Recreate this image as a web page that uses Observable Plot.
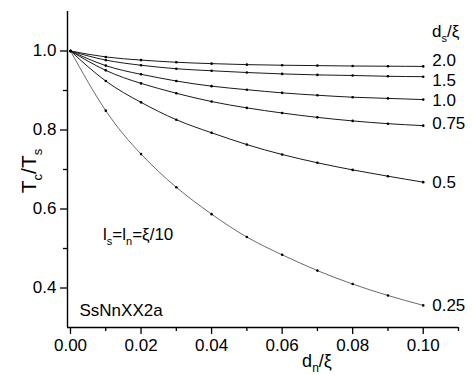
<!DOCTYPE html>
<html>
<head>
<meta charset="utf-8">
<script src="https://cdn.jsdelivr.net/npm/d3@7"></script>
<script src="https://cdn.jsdelivr.net/npm/@observablehq/plot@0.6"></script>
<style>
  html, body { margin: 0; padding: 0; background: #fff; }
  svg text { font-family: "Liberation Sans", Arial, sans-serif; }
</style>
</head>
<body>
<div id="chart"></div>
<script>
// d_n/xi values
const dn = [0, 0.01, 0.02, 0.03, 0.04, 0.05, 0.06, 0.07, 0.08, 0.09, 0.10];
// series labels (d_s/xi)
const seriesLabels = ["2.0", "1.5", "1.0", "0.75", "0.5", "0.25"];
// Tc/Ts values per series
const t20  = [1, 0.985, 0.977, 0.9715, 0.968, 0.9655, 0.964, 0.963, 0.962, 0.9615, 0.961];
const t15  = [1, 0.977, 0.964, 0.955, 0.950, 0.9455, 0.942, 0.9395, 0.938, 0.936, 0.935];
const t10  = [1, 0.963, 0.941, 0.924, 0.911, 0.902, 0.894, 0.888, 0.883, 0.880, 0.877];
const t075 = [1, 0.951, 0.918, 0.893, 0.872, 0.856, 0.843, 0.832, 0.823, 0.816, 0.811];
const t05  = [1, 0.924, 0.870, 0.826, 0.793, 0.763, 0.738, 0.717, 0.699, 0.683, 0.668];
const t025 = [1, 0.849, 0.739, 0.655, 0.587, 0.529, 0.484, 0.444, 0.410, 0.381, 0.356];
// tick values
const xMajorTicks = [0, 0.02, 0.04, 0.06, 0.08, 0.10];
const xMinorTicks = [0.01, 0.03, 0.05, 0.07, 0.09, 0.11];
const yMajorTicks = [0.4, 0.6, 0.8, 1.0];
const yMinorTicks = [0.5, 0.7, 0.9];

const seriesValues = [t20, t15, t10, t075, t05, t025];
const rows = [];
seriesValues.forEach((vals, i) => vals.forEach((v, j) => rows.push({ds: seriesLabels[i], x: dn[j], y: v})));
const ends = seriesValues.map((vals, i) => ({ds: seriesLabels[i], x: dn[dn.length - 1], y: vals[vals.length - 1]}));

const W = 473, H = 375;
const mL = 67, mR = 15, mT = 11, mB = 48;
const xDom = [-0.00085, 0.11], yDom = [0.3, 1.1];

const labelDy = {"2.0": -6, "1.5": 4, "1.0": 1, "0.75": -2, "0.5": 0, "0.25": 0};

const marks = [
  Plot.ruleX([xDom[0]], {stroke: "#000", strokeWidth: 1.4}),
  Plot.ruleY([yDom[0]], {stroke: "#000", strokeWidth: 1.4}),
  Plot.axisY({ticks: yMajorTicks, tickSize: 7, tickPadding: 4, tickFormat: d3.format(".1f"), label: null, fontSize: 17, strokeWidth: 1.3}),
  Plot.axisY({ticks: yMinorTicks, tickSize: 4, tickFormat: () => "", label: null, strokeWidth: 1.3}),
  Plot.axisX({ticks: xMajorTicks, tickSize: 7, tickPadding: 4, tickFormat: d3.format(".2f"), label: null, fontSize: 17, strokeWidth: 1.3}),
  Plot.axisX({ticks: xMinorTicks, tickSize: 4, tickFormat: () => "", label: null, strokeWidth: 1.3}),
  Plot.line(rows.filter(d => d.ds !== "0.25"), {x: "x", y: "y", z: "ds", curve: "natural", stroke: "#1a1a1a", strokeWidth: 1}),
  Plot.line(rows.filter(d => d.ds === "0.25"), {x: "x", y: "y", z: "ds", curve: "natural", stroke: "#444", strokeWidth: 0.8}),
  Plot.dot(rows, {x: "x", y: "y", r: 1.3, fill: "#000", stroke: null}),
  ...seriesLabels.map(lab => Plot.text(ends.filter(d => d.ds === lab), {
    x: "x", y: "y", text: "ds", dx: 9, dy: labelDy[lab], textAnchor: "start", lineAnchor: "middle", fontSize: 17, fill: "#000"
  })),
  Plot.text(["SsNnXX2a"], {x: 0.00255, y: 0.3295, text: d => d, textAnchor: "start", lineAnchor: "bottom", fontSize: 17, fill: "#000"})
];

const chart = Plot.plot({
  width: W, height: H,
  marginLeft: mL, marginRight: mR, marginTop: mT, marginBottom: mB,
  x: {domain: xDom},
  y: {domain: yDom},
  style: {fontFamily: "'Liberation Sans', Arial, sans-serif", color: "#000", background: "#fff"},
  marks
});
document.getElementById("chart").appendChild(chart);

// Subscripted text labels
const xs = d3.scaleLinear().domain(xDom).range([mL, W - mR]);
const ys = d3.scaleLinear().domain(yDom).range([H - mB, mT]);
const svg = d3.select(chart);
function subText(parent, parts, size, subSize) {
  let prevSub = false;
  parts.forEach(([t, isSub]) => {
    const ts = parent.append("tspan").text(t);
    if (isSub && !prevSub) ts.attr("dy", size * 0.3).attr("font-size", subSize);
    else if (!isSub && prevSub) ts.attr("dy", -size * 0.3).attr("font-size", size);
    else ts.attr("font-size", isSub ? subSize : size);
    prevSub = isSub;
  });
}
const g = svg.append("g").attr("fill", "#000").attr("font-family", "'Liberation Sans', Arial, sans-serif");
// y axis label
subText(g.append("text").attr("transform", `translate(36,${(mT + H - mB) / 2 + 2}) rotate(-90)`).attr("text-anchor", "middle"),
  [["T", false], ["c", true], ["/T", false], ["s", true]], 21, 13);
// x axis label
subText(g.append("text").attr("x", 317).attr("y", 367).attr("text-anchor", "middle"),
  [["d", false], ["n", true], ["/ξ", false]], 18, 12);
// legend header
subText(g.append("text").attr("x", 432).attr("y", 37).attr("text-anchor", "start"),
  [["d", false], ["s", true], ["/ξ", false]], 17, 11);
// annotation
subText(g.append("text").attr("x", xs(0.00936)).attr("y", ys(0.521)).attr("text-anchor", "start"),
  [["l", false], ["s", true], ["=l", false], ["n", true], ["=ξ/10", false]], 17, 11);
</script>
</body>
</html>
